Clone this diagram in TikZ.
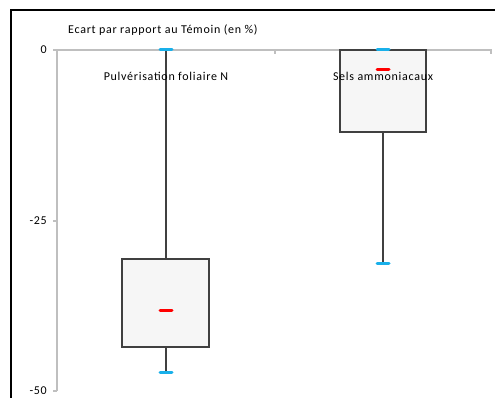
\documentclass[tikz,border=0pt]{standalone}
\usepackage{fontspec}
\setmainfont{Carlito}
\newfontfamily\chartfont[LetterSpace=6]{Carlito}
\usetikzlibrary{positioning}
\definecolor{axisgray}{HTML}{BFBFBF}
\definecolor{boxfill}{HTML}{F6F6F6}
\definecolor{boxline}{HTML}{404040}
\definecolor{capblue}{HTML}{19B0EA}
\definecolor{medred}{HTML}{FF0000}
\begin{document}
\begin{tikzpicture}[
  x=1pt,y=-1pt,
  axis/.style={draw=axisgray,line width=1.2pt},
  frame/.style={draw=black,line width=1.2pt},
  qbox/.style={draw=boxline,fill=boxfill,line width=1.2pt},
  whisk/.style={draw=boxline,line width=1.2pt},
  bluecap/.style={draw=capblue,line width=3pt,line cap=round},
  med/.style={draw=medred,line width=3pt,line cap=round},
  lbl/.style={font=\chartfont\fontsize{12}{14}\selectfont,inner sep=0pt}
]
\useasboundingbox (0,0) rectangle (495,398);
\fill[white] (0,0) rectangle (495,398);
% chart frame
\draw[frame] (11,398) -- (11,10) -- (495,10);
% axes
\draw[axis] (57,391) -- (57,50) -- (491,50) -- (491,54);
\draw[axis] (275,50) -- (275,54);
\foreach \yv/\txt in {50/0,221/-25,391/-50}{
  \draw[axis] (53,\yv) -- (57,\yv);
  \node[lbl,anchor=east] (tick\yv) at (47,\yv) {\txt};
}
\node[lbl,anchor=west] (title) at (68,30) {Ecart par rapport au Témoin (en \%)};
% Pulverisation foliaire N
\draw[whisk] (166,50) -- (166,372);
\draw[qbox] (122,259) rectangle (209,347);
\draw[med] (160,310) -- (172,310);
\draw[bluecap] (160,372) -- (172,372);
\draw[bluecap] (160,50) -- (172,50);
\node[lbl] (pulv) at (166,76) {Pulvérisation foliaire N};
% Sels ammoniacaux
\draw[whisk] (383,132) -- (383,263);
\draw[qbox] (340,50) rectangle (426,132);
\draw[med] (377,70) -- (389,70);
\draw[bluecap] (377,263) -- (389,263);
\draw[bluecap] (377,50) -- (389,50);
\node[lbl] (sels) at (383,76) {Sels ammoniacaux};
\end{tikzpicture}
\end{document}
